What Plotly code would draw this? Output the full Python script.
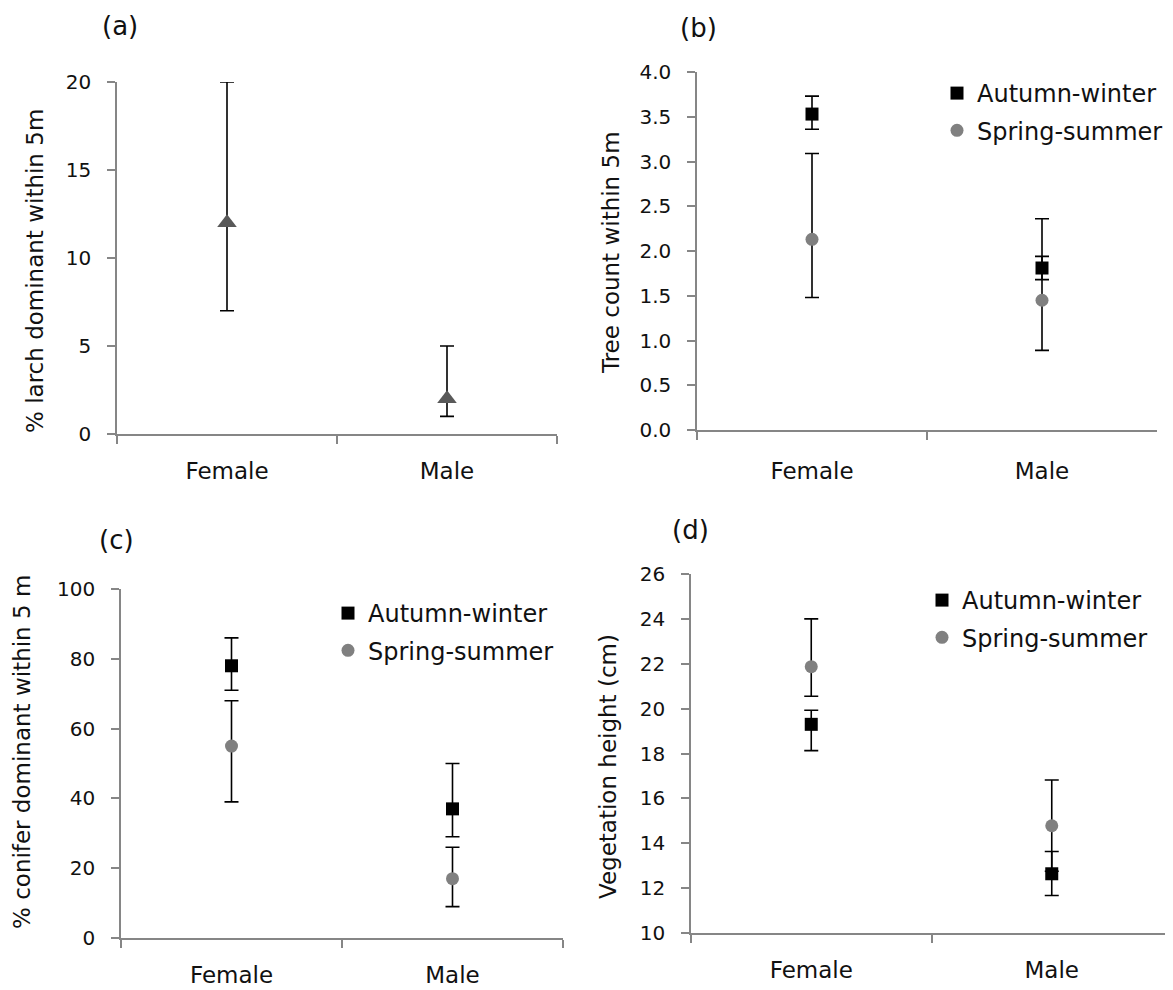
import plotly.graph_objects as go

W, H = 1173, 990

sexes = ["Female", "Male"]

# (a) % larch dominant within 5 m
larch_mean = [12, 2]
larch_low = [7, 1]
larch_high = [20, 5]

# (b) Tree count within 5 m
tree_aw_mean = [3.53, 1.81]
tree_aw_low = [3.36, 1.68]
tree_aw_high = [3.73, 1.94]
tree_ss_mean = [2.13, 1.45]
tree_ss_low = [1.48, 0.89]
tree_ss_high = [3.09, 2.36]

# (c) % conifer dominant within 5 m
con_aw_mean = [78, 37]
con_aw_low = [71, 29]
con_aw_high = [86, 50]
con_ss_mean = [55, 17]
con_ss_low = [39, 9]
con_ss_high = [68, 26]

# (d) Vegetation height (cm)
veg_aw_mean = [19.3, 12.64]
veg_aw_low = [18.13, 11.67]
veg_aw_high = [19.93, 13.63]
veg_ss_mean = [21.87, 14.78]
veg_ss_low = [20.55, 12.75]
veg_ss_high = [24.0, 16.82]

AW_NAME = "Autumn-winter"
SS_NAME = "Spring-summer"

FONT = "DejaVu Sans"
TXT = "#111111"
AXC = "#868686"
GRAY = "#808080"
TRI = "#595959"

OFF = 8  # page body margin


def err(mean, low, high):
    return dict(type="data", symmetric=False,
                array=[h - m for m, h in zip(mean, high)],
                arrayminus=[m - l for m, l in zip(mean, low)],
                color="black", thickness=1.6, width=7)


def px_x(v):
    return (v - OFF) / W


def px_y(v):
    return 1 - (v - OFF) / H


fig = go.Figure()

# panel domains in screen pixels: (left, right, top, bottom, x-label standoff)
panels = {
    1: (117, 557, 82, 434, 16),
    2: (697, 1157, 72, 430, 20),
    3: (121, 563, 589, 938, 16),
    4: (691, 1172, 574, 933, 16),
}

# (a)
fig.add_trace(go.Scatter(x=sexes, y=larch_mean, mode="markers", showlegend=False,
                         marker=dict(symbol="triangle-up", size=17, color=TRI),
                         error_y=err(larch_mean, larch_low, larch_high),
                         xaxis="x", yaxis="y"))
# (b)
fig.add_trace(go.Scatter(x=sexes, y=tree_aw_mean, mode="markers", name=AW_NAME,
                         marker=dict(symbol="square", size=13, color="black"),
                         error_y=err(tree_aw_mean, tree_aw_low, tree_aw_high),
                         xaxis="x2", yaxis="y2", legend="legend", legendgroup="b1"))
fig.add_trace(go.Scatter(x=sexes, y=tree_ss_mean, mode="markers", name=SS_NAME,
                         marker=dict(symbol="circle", size=13, color=GRAY),
                         error_y=err(tree_ss_mean, tree_ss_low, tree_ss_high),
                         xaxis="x2", yaxis="y2", legend="legend", legendgroup="b2"))
# (c)
fig.add_trace(go.Scatter(x=sexes, y=con_aw_mean, mode="markers", name=AW_NAME,
                         marker=dict(symbol="square", size=13, color="black"),
                         error_y=err(con_aw_mean, con_aw_low, con_aw_high),
                         xaxis="x3", yaxis="y3", legend="legend2", legendgroup="c1"))
fig.add_trace(go.Scatter(x=sexes, y=con_ss_mean, mode="markers", name=SS_NAME,
                         marker=dict(symbol="circle", size=13, color=GRAY),
                         error_y=err(con_ss_mean, con_ss_low, con_ss_high),
                         xaxis="x3", yaxis="y3", legend="legend2", legendgroup="c2"))
# (d)
fig.add_trace(go.Scatter(x=sexes, y=veg_aw_mean, mode="markers", name=AW_NAME,
                         marker=dict(symbol="square", size=13, color="black"),
                         error_y=err(veg_aw_mean, veg_aw_low, veg_aw_high),
                         xaxis="x4", yaxis="y4", legend="legend3", legendgroup="d1"))
fig.add_trace(go.Scatter(x=sexes, y=veg_ss_mean, mode="markers", name=SS_NAME,
                         marker=dict(symbol="circle", size=13, color=GRAY),
                         error_y=err(veg_ss_mean, veg_ss_low, veg_ss_high),
                         xaxis="x4", yaxis="y4", legend="legend3", legendgroup="d2"))

yranges = {1: [0, 20], 2: [0, 4], 3: [0, 100], 4: [10, 26]}
ydticks = {1: 5, 2: 0.5, 3: 20, 4: 2}
yfmt = {1: "d", 2: ".1f", 3: "d", 4: "d"}

layout = {}
for i, (l, r, t, b, st) in panels.items():
    sx = "" if i == 1 else str(i)
    layout["xaxis" + sx] = dict(
        domain=[px_x(l), px_x(r)], anchor="y" + sx, type="category",
        range=[-0.5, 1.5], tickson="boundaries", ticks="outside", ticklen=8,
        tickwidth=1.5, tickcolor=AXC, showline=True, linecolor=AXC, linewidth=1.5,
        showgrid=False, zeroline=False, ticklabelstandoff=st, automargin=False,
        tickfont=dict(family=FONT, size=23, color=TXT))
    layout["yaxis" + sx] = dict(
        domain=[px_y(b), px_y(t)], anchor="x" + sx, range=yranges[i],
        tickmode="linear", tick0=yranges[i][0], dtick=ydticks[i], tickformat=yfmt[i],
        ticks="outside", ticklen=8, tickwidth=1.5, tickcolor=AXC,
        showline=True, linecolor=AXC, linewidth=1.5, showgrid=False, zeroline=False,
        ticklabelstandoff=12, automargin=False,
        tickfont=dict(family=FONT, size=20, color=TXT))

legfont = dict(family=FONT, size=24, color=TXT)
legcommon = dict(xanchor="left", yanchor="top", font=legfont, bgcolor="rgba(0,0,0,0)",
                 tracegroupgap=3, borderwidth=0)
layout["legend"] = dict(x=px_x(937), y=px_y(71), **legcommon)
layout["legend2"] = dict(x=px_x(328), y=px_y(591), **legcommon)
layout["legend3"] = dict(x=px_x(922), y=px_y(578), **legcommon)

annotations = []
# panel labels
for txt, cx, cy in [("(a)", 120, 26), ("(b)", 698, 28), ("(c)", 117, 540), ("(d)", 690, 530)]:
    annotations.append(dict(text=txt, x=px_x(cx), y=px_y(cy), xref="paper", yref="paper",
                            showarrow=False, xanchor="center", yanchor="middle",
                            font=dict(family=FONT, size=26, color=TXT)))
# y-axis titles
for txt, cx, cy in [("% larch dominant within 5m", 35, 271),
                    ("Tree count within 5m", 611, 253),
                    ("% conifer dominant within 5 m", 22, 752),
                    ("Vegetation height (cm)", 608, 767)]:
    annotations.append(dict(text=txt, x=px_x(cx), y=px_y(cy), xref="paper", yref="paper",
                            showarrow=False, xanchor="center", yanchor="middle", textangle=-90,
                            font=dict(family=FONT, size=23, color=TXT)))

fig.update_layout(**layout)
fig.update_layout(width=W, height=H,
                  margin=dict(l=0, r=0, t=0, b=0, pad=0, autoexpand=False),
                  paper_bgcolor="white", plot_bgcolor="white",
                  annotations=annotations, showlegend=True)

fig.write_html("out.html")
